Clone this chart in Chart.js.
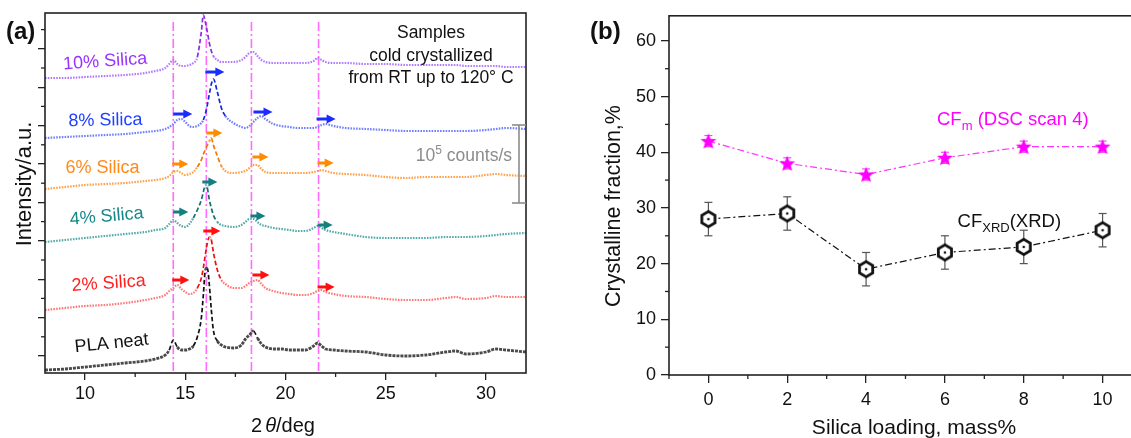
<!DOCTYPE html>
<html><head><meta charset="utf-8">
<script src="https://cdn.jsdelivr.net/npm/chart.js@4.4.1/dist/chart.umd.min.js"></script>
<style>
html,body{margin:0;padding:0;background:#fff;overflow:hidden;width:1131px;height:438px;}
#ca{position:absolute;left:0;top:0;}
#cb{position:absolute;left:560px;top:0;}
</style></head><body>
<canvas id="ca" width="560" height="438"></canvas>
<canvas id="cb" width="600" height="438"></canvas>
<script>
// ---------------- Panel (a) data : XRD patterns (intensity, a.u.) ----------------
const twoTheta = [8,9,10,11,12,13,13.5,14,14.2,14.4,14.6,14.8,15,15.2,15.4,15.6,15.8,15.9,16.0,16.1,16.2,16.3,16.4,16.6,16.8,17,17.4,17.8,18.0,18.2,18.4,18.6,18.8,19,19.4,19.8,20.2,20.6,21,21.4,21.6,21.8,22,22.4,23,24,25,26,27,28,28.5,29,30,30.5,31,32];
const plaNeat  = [-14,-13,-11,-9,-7,-5,-3,1,6,16,9,6,6,7,10,19,38,61,86,88,71,46,26,15,11,9,8,11,17,21,25,18,12,9,7,7,6,6,6,10,13,10,7,6,5,4,1,0,1,4,5,2,4,7,6,4];
const silica2  = [46,48,50,51,53,56,58,61,65,68,71,67,64,62,63,68,78,88,101,113,119,116,104,86,76,72,68,68,70,73,75,76,72,68,65,63,62,61,61,63,65,66,64,62,60,59,57,56,56,58,59,57,58,60,59,59];
const silica4  = [114,116,118,120,122,124,126,128,132,136,133,130,129,132,138,146,156,164,171,168,156,148,141,134,131,130,129,131,134,137,137,134,131,130,128,127,126,125,125,128,130,128,126,124,122,119,118,118,118,119,119,119,120,121,122,123];
const silica6  = [167,169,171,172,173,175,176,178,180,184,185,183,181,182,184,189,196,202,206,211,215,218,211,200,190,185,183,184,185,188,191,191,187,184,183,183,183,183,183,184,185,186,185,183,182,181,179,178,179,179,179,179,181,182,181,180];
const silica8  = [218,219,220,221,222,224,225,227,229,232,236,237,234,230,229,230,233,236,242,251,262,272,277,264,248,240,233,229,228,230,234,238,240,237,232,230,229,228,228,228,229,231,232,230,228,227,226,225,225,225,225,225,226,227,228,227];
const silica10 = [278,278,279,280,281,283,285,288,292,296,292,290,290,291,293,299,324,341,334,324,313,305,300,296,294,294,294,296,299,303,304,300,296,294,293,293,293,293,293,295,298,296,294,293,293,292,292,291,291,291,291,290,290,290,289,289];
const sampleNames = ['PLA neat','2% Silica','4% Silica','6% Silica','8% Silica','10% Silica'];
const peakLines = [14.4, 16.05, 18.3, 21.65];
const peakLineTop = 334;
// shift arrows: start angle and height
const arrowX8 = [14.4, 16.0, 18.4, 21.55], arrowY8 = [242, 284, 244, 237];
const arrowX6 = [14.35, 16.05, 18.35, 21.6], arrowY6 = [192, 223, 199, 193];
const arrowX4 = [14.4, 15.85, 18.25, 21.6], arrowY4 = [144, 174, 140, 131];
const arrowX2 = [14.35, 15.9, 18.35, 21.6], arrowY2 = [76, 125, 81, 69];
const scaleBarX = 31.65, scaleBarY = [153, 231];
const xTicksA = [10, 15, 20, 25, 30];
const xMinorA = [12.5, 17.5, 22.5, 27.5];
const yMajorA = [0, 38.4, 76.8, 115.2, 153.6, 192, 230.4, 268.8, 307.2];
const yMinorA = [19.2, 57.6, 96, 134.4, 172.8, 211.2, 249.6, 288, 326.4];

// ---------------- Panel (b) data ----------------
const loading = [0, 2, 4, 6, 8, 10];
const cfDSC = [42, 38, 36, 39, 41, 41];
const cfDSCerr = [1, 1, 1, 1, 1, 1];
const cfXRD = [28, 29, 19, 22, 23, 26];
const cfXRDerr = [3, 3, 3, 3, 3, 3];
const xTicksB = [0, 2, 4, 6, 8, 10];
const xMinorB = [-1, 1, 3, 5, 7, 9];
const yTicksB = [0, 10, 20, 30, 40, 50, 60];
const yMinorB = [5, 15, 25, 35, 45, 55];

// ---------------- helpers ----------------
const FONT = '"Liberation Sans", Arial, Helvetica, sans-serif';
function f(size, weight, style) { return (style || 'normal') + ' ' + (weight || 'normal') + ' ' + size + 'px ' + FONT; }
function rich(ctx, segs, x, y, o) {
  o = o || {};
  ctx.save();
  ctx.fillStyle = o.color || '#111';
  ctx.textBaseline = 'alphabetic';
  ctx.textAlign = 'left';
  const w = segs.map(s => { ctx.font = s.font; return ctx.measureText(s.t).width + (s.dx || 0); });
  const tot = w.reduce((a, b) => a + b, 0);
  ctx.translate(x, y);
  if (o.rot) ctx.rotate(o.rot * Math.PI / 180);
  let cx = o.align === 'center' ? -tot / 2 : (o.align === 'right' ? -tot : 0);
  segs.forEach((s, i) => { ctx.font = s.font; ctx.fillText(s.t, cx + (s.dx || 0), (s.dy || 0) + (o.dy || 0)); cx += w[i]; });
  ctx.restore();
}
function seg(ctx, x1, y1, x2, y2) { ctx.beginPath(); ctx.moveTo(x1, y1); ctx.lineTo(x2, y2); ctx.stroke(); }
function arrow(ctx, x0, x1, y, color) {
  ctx.strokeStyle = color; ctx.fillStyle = color; ctx.lineWidth = 3; ctx.setLineDash([]);
  seg(ctx, x0, y, x1 - 7, y);
  ctx.beginPath(); ctx.moveTo(x1, y); ctx.lineTo(x1 - 9, y - 4.6); ctx.lineTo(x1 - 9, y + 4.6); ctx.closePath(); ctx.fill();
}
const pts = arr => twoTheta.map((t, i) => ({ x: t, y: arr[i] }));
const arrowSets = [
  { x: arrowX8, y: arrowY8, len: 0.95, color: '#1a2cff' },
  { x: arrowX6, y: arrowY6, len: 0.8, color: '#ff8c00' },
  { x: arrowX4, y: arrowY4, len: 0.75, color: '#157f7f' },
  { x: arrowX2, y: arrowY2, len: 0.85, color: '#ff1010' }
];
const gridStyle = { display: true, drawOnChartArea: false, drawTicks: true, tickLength: 7, color: '#222', lineWidth: 1.3 };

// ---------------- Panel (a) ----------------
const plotA = {
  id: 'plotA',
  beforeDatasetsDraw(chart) {
    const { ctx, chartArea: ca, scales: { x, y } } = chart;
    ctx.save();
    ctx.strokeStyle = '#ff6cff'; ctx.lineWidth = 1.6; ctx.setLineDash([9, 3, 2, 3]);
    peakLines.forEach(v => { const p = x.getPixelForValue(v); seg(ctx, p, y.getPixelForValue(peakLineTop), p, ca.bottom); });
    ctx.restore();
  },
  afterDraw(chart) {
    const { ctx, chartArea: ca, scales: { x, y } } = chart;
    ctx.save();
    ctx.strokeStyle = '#222'; ctx.lineWidth = 1.6; ctx.setLineDash([]);
    ctx.strokeRect(ca.left, ca.top, ca.right - ca.left, ca.bottom - ca.top);
    ctx.lineWidth = 1.3;
    xMinorA.forEach(v => { const p = x.getPixelForValue(v); seg(ctx, p, ca.bottom, p, ca.bottom + 4); });
    yMinorA.forEach(v => { const p = y.getPixelForValue(v); seg(ctx, ca.left - 4, p, ca.left, p); });
    arrowSets.forEach(a => a.x.forEach((xv, i) => arrow(ctx, x.getPixelForValue(xv), x.getPixelForValue(xv + a.len), y.getPixelForValue(a.y[i]), a.color)));
    // scale bar
    const sx = x.getPixelForValue(scaleBarX), s1 = y.getPixelForValue(scaleBarY[0]), s2 = y.getPixelForValue(scaleBarY[1]);
    ctx.strokeStyle = '#8c8c8c'; ctx.lineWidth = 1.6;
    seg(ctx, sx, s1, sx, s2); seg(ctx, sx - 7, s1, sx + 7, s1); seg(ctx, sx - 7, s2, sx + 7, s2);
    rich(ctx, [{ t: '10', font: f(17.5) }, { t: '5', font: f(12), dy: -7 }, { t: ' counts/s', font: f(17.5) }], 512, 155, { align: 'right', dy: 6.3, color: '#8c8c8c' });
    // sample labels
    const lab = [
      ['10% Silica', 105, 60, -4, '#9933ff'],
      ['8% Silica', 105.5, 119, -1, '#2040ff'],
      ['6% Silica', 102.5, 166, 0, '#ff8a1a'],
      ['4% Silica', 106.5, 215, -5, '#178787'],
      ['2% Silica', 108.5, 282, -4, '#ff2020'],
      ['PLA neat', 111.5, 342, -6, '#111']
    ];
    lab.forEach(l => rich(ctx, [{ t: l[0], font: f(18) }], l[1], l[2], { align: 'center', rot: l[3], dy: 6.5, color: l[4] }));
    rich(ctx, [{ t: 'Samples', font: f(17.5) }], 431, 32, { align: 'center', dy: 6.3 });
    rich(ctx, [{ t: 'cold crystallized', font: f(17.5) }], 431, 54.5, { align: 'center', dy: 6.3 });
    rich(ctx, [{ t: 'from RT up to 120° C', font: f(17.5) }], 431, 77, { align: 'center', dy: 6.3 });
    rich(ctx, [{ t: 'Intensity/a.u.', font: f(22) }], 23, 184, { align: 'center', rot: -90, dy: 7.8 });
    rich(ctx, [{ t: '2', font: f(20) }, { t: 'θ', font: f(20, 'normal', 'italic'), dx: 3 }, { t: '/deg', font: f(20) }], 283, 425, { align: 'center', dy: 7 });
    rich(ctx, [{ t: '(a)', font: f(24, 'bold') }], 6, 30, { dy: 8.5 });
    ctx.restore();
  }
};

function steep(c) { return Math.abs(c.p1.y - c.p0.y) > 1.6 * Math.abs(c.p1.x - c.p0.x); }
function lineDs(label, arr, light, dark, width, dash) {
  return {
    label, data: pts(arr), borderColor: light, borderWidth: width, borderDash: dash, pointRadius: 0, fill: false,
    cubicInterpolationMode: 'monotone',
    segment: {
      borderColor: c => steep(c) ? dark : undefined,
      borderDash: c => steep(c) ? [4.5, 2.5] : undefined,
      borderWidth: c => steep(c) ? 1.7 : undefined
    }
  };
}

new Chart(document.getElementById('ca'), {
  type: 'line',
  data: {
    datasets: [
      lineDs(sampleNames[0], plaNeat, '#4a4a4a', '#111', 2.8, [3, 1]),
      lineDs(sampleNames[1], silica2, '#ff7777', '#e81010', 2.2, [1.6, 1.2]),
      lineDs(sampleNames[2], silica4, '#55aaaa', '#127070', 2.2, [1.6, 1.2]),
      lineDs(sampleNames[3], silica6, '#ffa24a', '#f07800', 2.2, [1.6, 1.2]),
      lineDs(sampleNames[4], silica8, '#7080ff', '#1428e0', 2.2, [1.6, 1.2]),
      lineDs(sampleNames[5], silica10, '#b27cff', '#8a2be2', 2.2, [1.6, 1.2])
    ]
  },
  options: {
    responsive: false, animation: false, devicePixelRatio: 1,
    layout: { padding: { left: 0, top: 13, right: 34, bottom: 0 } },
    plugins: { legend: { display: false }, tooltip: { enabled: false } },
    scales: {
      x: {
        type: 'linear', min: 8, max: 32,
        afterBuildTicks: s => { s.ticks = xTicksA.map(v => ({ value: v })); },
        afterFit: s => { s.height = 65; },
        grid: gridStyle, border: { display: false },
        ticks: { font: { family: FONT, size: 18 }, color: '#111', padding: 3, maxRotation: 0, autoSkip: false }
      },
      y: {
        type: 'linear', min: -17, max: 343,
        afterBuildTicks: s => { s.ticks = yMajorA.map(v => ({ value: v })); },
        afterFit: s => { s.width = 45; },
        grid: gridStyle, border: { display: false },
        ticks: { display: false }
      }
    }
  },
  plugins: [plotA]
});

// ---------------- Panel (b) ----------------
function makeHex() {
  const c = document.createElement('canvas'); c.width = 20; c.height = 22;
  const g = c.getContext('2d'); const cx = 10, cy = 11, r = 7.6;
  g.beginPath();
  for (let i = 0; i < 6; i++) { const a = Math.PI / 2 + i * Math.PI / 3; const px = cx + r * Math.cos(a), py = cy + r * Math.sin(a); i ? g.lineTo(px, py) : g.moveTo(px, py); }
  g.closePath(); g.fillStyle = '#fff'; g.fill(); g.lineWidth = 2.8; g.strokeStyle = '#111'; g.stroke();
  g.beginPath(); g.arc(cx, cy, 1.3, 0, 2 * Math.PI); g.fillStyle = '#111'; g.fill();
  return c;
}
function makeStar() {
  const c = document.createElement('canvas'); c.width = 20; c.height = 20;
  const g = c.getContext('2d'); const cx = 10, cy = 10.6, R = 8.4, r = 3.6;
  g.beginPath();
  for (let i = 0; i < 10; i++) { const a = -Math.PI / 2 + i * Math.PI / 5; const rr = i % 2 ? r : R; const px = cx + rr * Math.cos(a), py = cy + rr * Math.sin(a); i ? g.lineTo(px, py) : g.moveTo(px, py); }
  g.closePath(); g.fillStyle = '#ff00ff'; g.fill();
  return c;
}
function errBars(ctx, x, y, xs, ys, es, color) {
  ctx.strokeStyle = color; ctx.lineWidth = 1.2; ctx.setLineDash([]);
  xs.forEach((xv, i) => {
    const px = x.getPixelForValue(xv), lo = y.getPixelForValue(ys[i] - es[i]), hi = y.getPixelForValue(ys[i] + es[i]);
    seg(ctx, px, lo, px, hi); seg(ctx, px - 4, lo, px + 4, lo); seg(ctx, px - 4, hi, px + 4, hi);
  });
}
const plotB = {
  id: 'plotB',
  beforeDatasetsDraw(chart) {
    const { ctx, scales: { x, y } } = chart;
    ctx.save();
    errBars(ctx, x, y, loading, cfXRD, cfXRDerr, '#555');
    errBars(ctx, x, y, loading, cfDSC, cfDSCerr, '#ff40ff');
    ctx.restore();
  },
  afterDraw(chart) {
    const { ctx, chartArea: ca, scales: { x, y } } = chart;
    ctx.save();
    ctx.strokeStyle = '#222'; ctx.lineWidth = 1.6; ctx.setLineDash([]);
    ctx.strokeRect(ca.left, ca.top, ca.right - ca.left, ca.bottom - ca.top);
    ctx.lineWidth = 1.3;
    xMinorB.forEach(v => { const p = x.getPixelForValue(v); seg(ctx, p, ca.bottom, p, ca.bottom + 4); });
    yMinorB.forEach(v => { const p = y.getPixelForValue(v); seg(ctx, ca.left - 4, p, ca.left, p); });
    rich(ctx, [{ t: 'CF', font: f(18.5) }, { t: 'm', font: f(13), dy: 5 }, { t: ' (DSC scan 4)', font: f(18.5) }], 377, 118, { dy: 6.6, color: '#ff00ff' });
    rich(ctx, [{ t: 'CF', font: f(18.5) }, { t: 'XRD', font: f(13), dy: 5 }, { t: '(XRD)', font: f(18.5) }], 397.6, 220, { dy: 6.6, color: '#111' });
    rich(ctx, [{ t: 'Crystalline fraction,%', font: f(21.5) }], 52, 206, { align: 'center', rot: -90, dy: 7.6 });
    rich(ctx, [{ t: 'Silica loading, mass%', font: f(21) }], 354, 427, { align: 'center', dy: 7.4 });
    rich(ctx, [{ t: '(b)', font: f(24, 'bold') }], 30, 30, { dy: 8.5 });
    ctx.restore();
  }
};
const hexImg = makeHex(), starImg = makeStar();
new Chart(document.getElementById('cb'), {
  type: 'line',
  data: {
    datasets: [
      { label: 'CF(XRD)', data: loading.map((v, i) => ({ x: v, y: cfXRD[i] })), borderColor: '#111', borderWidth: 1.2, borderDash: [7, 3, 2, 3], pointStyle: hexImg, pointRadius: 6, fill: false },
      { label: 'CFm (DSC scan 4)', data: loading.map((v, i) => ({ x: v, y: cfDSC[i] })), borderColor: '#ff33ff', borderWidth: 1.2, borderDash: [7, 3, 2, 3], pointStyle: starImg, pointRadius: 6, fill: false }
    ]
  },
  options: {
    responsive: false, animation: false, devicePixelRatio: 1,
    layout: { padding: { left: 0, top: 12, right: 18, bottom: 0 } },
    plugins: { legend: { display: false }, tooltip: { enabled: false } },
    scales: {
      x: {
        type: 'linear', min: -1, max: 11,
        afterBuildTicks: s => { s.ticks = xTicksB.map(v => ({ value: v })); },
        afterFit: s => { s.height = 63; },
        grid: Object.assign({}, gridStyle, { tickLength: 8 }), border: { display: false },
        ticks: { font: { family: FONT, size: 18 }, color: '#111', padding: 6, maxRotation: 0, autoSkip: false }
      },
      y: {
        type: 'linear', min: 0, max: 64.5,
        afterBuildTicks: s => { s.ticks = yTicksB.map(v => ({ value: v })); },
        afterFit: s => { s.width = 109; },
        grid: Object.assign({}, gridStyle, { tickLength: 8 }), border: { display: false },
        ticks: { font: { family: FONT, size: 18 }, color: '#111', padding: 5, autoSkip: false }
      }
    }
  },
  plugins: [plotB]
});
</script>
</body></html>
